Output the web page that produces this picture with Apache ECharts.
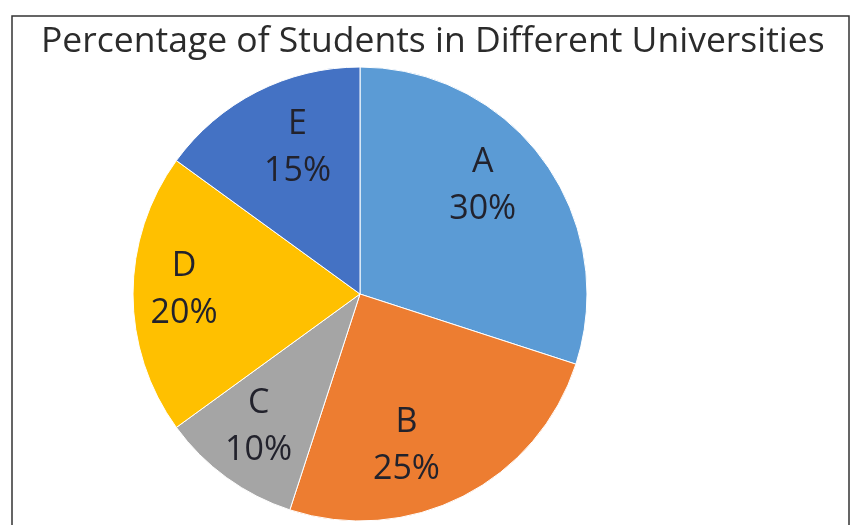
<!DOCTYPE html>
<html>
<head>
<meta charset="utf-8">
<script src="https://cdn.jsdelivr.net/npm/echarts@6/dist/echarts.min.js"></script>
<style>html,body{margin:0;padding:0;background:#fff;}#c{width:850px;height:525px;}</style>
</head>
<body>
<div id="c"></div>
<script>
var categories = ['A', 'B', 'C', 'D', 'E'];
var percentages = [30, 25, 10, 20, 15];
var colors = ['#5b9bd5', '#ed7d31', '#a5a5a5', '#ffc000', '#4472c4'];
var titleText = 'Percentage of Students in Different Universities';

var labelOffsets = [[-10, -12], [-28, 6], [-5, 0], [-12, -4], [12, 0]];

var chart = echarts.init(document.getElementById('c'));
var sliceData = categories.map(function (c, i) {
  return { name: c, value: percentages[i], itemStyle: { color: colors[i] } };
});
var labelData = categories.map(function (c, i) {
  return { name: c, value: percentages[i], label: { offset: labelOffsets[i] } };
});
chart.setOption({
  animation: false,
  title: {
    text: titleText,
    left: 36, top: 19,
    textStyle: { fontFamily: 'Open Sans', fontSize: 35.5, fontWeight: 'normal', color: '#2b2b2b' }
  },
  graphic: [{
    type: 'polyline',
    shape: { points: [[12, 530], [12, 16], [849, 16], [849, 530]] },
    style: { stroke: '#333', lineWidth: 1.5, fill: null }
  }],
  series: [{
    type: 'pie',
    center: [360, 294],
    radius: [0, 227],
    startAngle: 90,
    clockwise: true,
    label: { show: false },
    labelLine: { show: false },
    itemStyle: { borderColor: '#ffffff', borderWidth: 1 },
    emphasis: { disabled: true },
    data: sliceData
  }, {
    type: 'pie',
    center: [360, 294],
    radius: [95, 227],
    startAngle: 90,
    clockwise: true,
    silent: true,
    itemStyle: { color: 'rgba(0,0,0,0)' },
    label: {
      show: true,
      position: 'inside',
      formatter: '{b}\n{c}%',
      fontFamily: 'Open Sans',
      fontSize: 34,
      lineHeight: 47,
      color: '#22222c'
    },
    labelLine: { show: false },
    emphasis: { disabled: true },
    data: labelData
  }]
});
</script>
</body>
</html>
